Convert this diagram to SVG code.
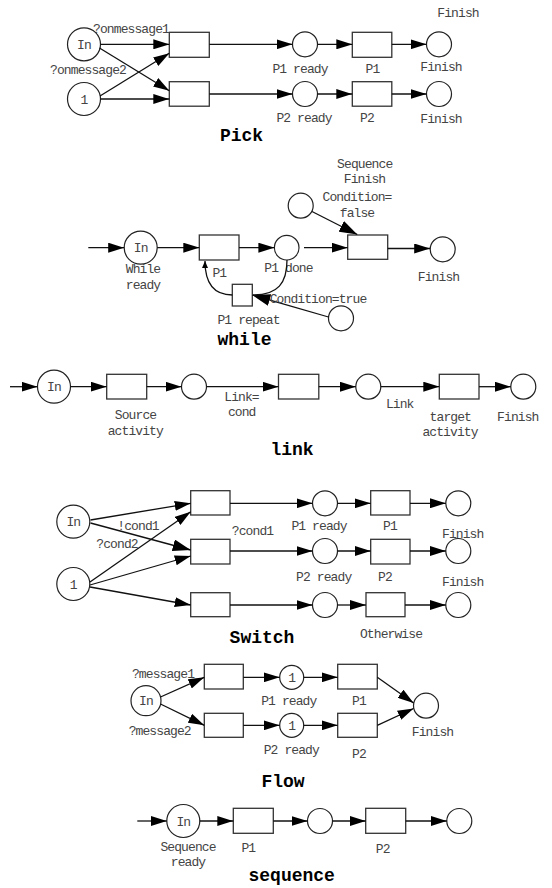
<svg xmlns="http://www.w3.org/2000/svg" width="552" height="888" viewBox="0 0 552 888">
  <style>
    .place { fill: #fff; stroke: #222; stroke-width: 1.2; }
    .trans { fill: #fff; stroke: #333; stroke-width: 1.3; }
    .arc { fill: none; stroke: #111; stroke-width: 1.3; marker-end: url(#head); }
    .arc.big { marker-end: url(#headBig); }
    .arc.small { marker-end: url(#headSmall); }
    .arc.plain { marker-end: none; }
    .lbl { font-family: "Liberation Mono", "DejaVu Sans Mono", monospace; font-size: 13px; letter-spacing: -0.9px; fill: #444; text-anchor: middle; }
    .ttl { font-family: "Liberation Mono", "DejaVu Sans Mono", monospace; font-size: 18px; font-weight: bold; fill: #000; text-anchor: middle; }
  </style>
  <defs>
    <marker id="head" markerUnits="userSpaceOnUse" markerWidth="16" markerHeight="10" refX="16" refY="5" orient="auto">
      <path d="M0,0 L16,5 L0,10 Z" fill="#000"/>
    </marker>
    <marker id="headBig" markerUnits="userSpaceOnUse" markerWidth="18" markerHeight="12" refX="18" refY="6" orient="auto">
      <path d="M0,0 L18,6 L0,12 Z" fill="#000"/>
    </marker>
    <marker id="headSmall" markerUnits="userSpaceOnUse" markerWidth="7" markerHeight="6" refX="7" refY="3" orient="auto">
      <path d="M0,0 L7,3 L0,6 Z" fill="#000"/>
    </marker>
  </defs>

  <rect width="552" height="888" fill="#fff"/>

  <!-- ===== Pick ===== -->
  <g id="pick-in"><circle class="place" cx="84" cy="44.3" r="16.5"/><text class="lbl" x="84" y="48.8">In</text></g>
  <g id="pick-one"><circle class="place" cx="84" cy="99" r="16.5"/><text class="lbl" x="84" y="103.5">1</text></g>
  <g id="pick-t1"><rect class="trans" x="169.3" y="32.3" width="40" height="25"/></g>
  <g id="pick-t2"><rect class="trans" x="169.3" y="81.7" width="40" height="24.5"/></g>
  <g id="pick-p1ready"><circle class="place" cx="305" cy="44.3" r="12.5"/><text class="lbl" x="300" y="73">P1 ready</text></g>
  <g id="pick-p1"><rect class="trans" x="352.3" y="32.3" width="39.5" height="25"/><text class="lbl" x="372.5" y="73">P1</text></g>
  <g id="pick-fin1"><circle class="place" cx="439" cy="44.3" r="12.5"/><text class="lbl" x="441" y="71">Finish</text></g>
  <g id="pick-finish-note"><text class="lbl" x="458" y="17">Finish</text></g>
  <g id="pick-p2ready"><circle class="place" cx="305" cy="94" r="12.5"/><text class="lbl" x="304" y="122">P2 ready</text></g>
  <g id="pick-p2"><rect class="trans" x="352.3" y="81.7" width="39.5" height="24.5"/><text class="lbl" x="367" y="122">P2</text></g>
  <g id="pick-fin2"><circle class="place" cx="439" cy="94" r="12.5"/><text class="lbl" x="441" y="122.5">Finish</text></g>
  <g id="pick-title"><text class="ttl" x="241.5" y="141">Pick</text></g>

  <!-- ===== while ===== -->
  <g id="while-in"><circle class="place" cx="140.7" cy="247.7" r="16.5"/><text class="lbl" x="140.7" y="252.2">In</text>
    <text class="lbl" x="143" y="272.5">While</text><text class="lbl" x="143" y="289">ready</text></g>
  <g id="while-p1"><rect class="trans" x="199.3" y="235" width="39.7" height="25"/><text class="lbl" x="219.3" y="277">P1</text></g>
  <g id="while-done"><circle class="place" cx="286.7" cy="247.7" r="12.3"/><text class="lbl" x="288.5" y="271.5">P1 done</text></g>
  <g id="while-repeat"><rect class="trans" x="232.3" y="284.3" width="20" height="21.7"/><text class="lbl" x="248.5" y="323.5">P1 repeat</text></g>
  <g id="while-cond-false"><circle class="place" cx="300.7" cy="205.7" r="12.5"/></g>
  <g id="while-exit"><rect class="trans" x="347.7" y="235" width="40" height="24.3"/>
    <text class="lbl" x="364.7" y="167.5">Sequence</text><text class="lbl" x="364.5" y="183">Finish</text>
    <text class="lbl" x="357" y="201">Condition=</text><text class="lbl" x="357" y="217">false</text></g>
  <g id="while-finish"><circle class="place" cx="442.7" cy="249.3" r="12.5"/><text class="lbl" x="438.5" y="280.5">Finish</text></g>
  <g id="while-cond-true"><circle class="place" cx="341" cy="318.3" r="12.5"/></g>
  <g id="while-title"><text class="ttl" x="244.5" y="345">while</text></g>

  <!-- ===== link ===== -->
  <g id="link-in"><circle class="place" cx="54" cy="386.7" r="16.5"/><text class="lbl" x="54" y="391.2">In</text></g>
  <g id="link-source"><rect class="trans" x="106.7" y="374.3" width="40" height="24.7"/>
    <text class="lbl" x="135.5" y="418.5">Source</text><text class="lbl" x="135.3" y="434.5">activity</text></g>
  <g id="link-p1"><circle class="place" cx="194" cy="386.7" r="12.5"/></g>
  <g id="link-t"><rect class="trans" x="278.5" y="374.3" width="40.3" height="24.7"/></g>
  <g id="link-p2"><circle class="place" cx="368.3" cy="386.7" r="12.5"/></g>
  <g id="link-target"><rect class="trans" x="439.3" y="374.3" width="39.7" height="24.7"/>
    <text class="lbl" x="450.3" y="420.5">target</text><text class="lbl" x="450" y="436">activity</text></g>
  <g id="link-finish"><circle class="place" cx="523.3" cy="386.7" r="12.5"/><text class="lbl" x="517.8" y="420.5">Finish</text></g>
  <g id="link-title"><text class="ttl" x="292" y="455">link</text></g>

  <!-- ===== Switch ===== -->
  <g id="sw-in"><circle class="place" cx="73.3" cy="521.7" r="16.5"/><text class="lbl" x="73.3" y="526.2">In</text></g>
  <g id="sw-one"><circle class="place" cx="73.3" cy="584" r="16.5"/><text class="lbl" x="73.3" y="588.5">1</text></g>
  <g id="sw-t1"><rect class="trans" x="190.7" y="490.7" width="39.3" height="24.3"/></g>
  <g id="sw-t2"><rect class="trans" x="190.7" y="539.3" width="39.3" height="24.7"/></g>
  <g id="sw-t3"><rect class="trans" x="190.7" y="592.7" width="39.3" height="24"/></g>
  <g id="sw-p1ready"><circle class="place" cx="325" cy="503.3" r="12.5"/><text class="lbl" x="319" y="530">P1 ready</text></g>
  <g id="sw-p1"><rect class="trans" x="370.7" y="490.7" width="39.3" height="24.3"/><text class="lbl" x="390" y="530">P1</text></g>
  <g id="sw-fin1"><circle class="place" cx="458.3" cy="503.3" r="12.5"/><text class="lbl" x="462.7" y="537.5">Finish</text></g>
  <g id="sw-p2ready"><circle class="place" cx="325" cy="551" r="12.5"/><text class="lbl" x="323.7" y="580.5">P2 ready</text></g>
  <g id="sw-p2"><rect class="trans" x="370.7" y="539.3" width="39.3" height="24.7"/><text class="lbl" x="385" y="580.5">P2</text></g>
  <g id="sw-fin2"><circle class="place" cx="458.3" cy="551" r="12.5"/><text class="lbl" x="462.7" y="586">Finish</text></g>
  <g id="sw-p3"><circle class="place" cx="325" cy="605" r="12.5"/></g>
  <g id="sw-otherwise"><rect class="trans" x="366" y="592.7" width="39" height="24"/><text class="lbl" x="391" y="638">Otherwise</text></g>
  <g id="sw-fin3"><circle class="place" cx="458.3" cy="605" r="12.5"/></g>
  <g id="sw-title"><text class="ttl" x="262" y="643">Switch</text></g>

  <!-- ===== Flow ===== -->
  <g id="fl-in"><circle class="place" cx="146" cy="700.7" r="15"/><text class="lbl" x="146" y="705.2">In</text></g>
  <g id="fl-t1"><rect class="trans" x="204.3" y="664.3" width="39" height="24.7"/></g>
  <g id="fl-t2"><rect class="trans" x="204.3" y="713.3" width="39" height="24"/></g>
  <g id="fl-p1ready"><circle class="place" cx="291.7" cy="677.3" r="12"/><text class="lbl" x="291.7" y="681.8">1</text><text class="lbl" x="288.8" y="704.5">P1 ready</text></g>
  <g id="fl-p2ready"><circle class="place" cx="291.7" cy="725.3" r="12"/><text class="lbl" x="291.7" y="729.8">1</text><text class="lbl" x="291.3" y="753.5">P2 ready</text></g>
  <g id="fl-p1"><rect class="trans" x="337.7" y="664.3" width="39.6" height="24.7"/><text class="lbl" x="359" y="704.5">P1</text></g>
  <g id="fl-p2"><rect class="trans" x="337.7" y="713.3" width="39.6" height="24"/><text class="lbl" x="359" y="758">P2</text></g>
  <g id="fl-finish"><circle class="place" cx="426" cy="705.7" r="12.5"/><text class="lbl" x="432.5" y="736">Finish</text></g>
  <g id="fl-title"><text class="ttl" x="283" y="787">Flow</text></g>

  <!-- ===== sequence ===== -->
  <g id="seq-in"><circle class="place" cx="183.3" cy="821" r="16.5"/><text class="lbl" x="183.3" y="825.5">In</text>
    <text class="lbl" x="188" y="851">Sequence</text><text class="lbl" x="188" y="866">ready</text></g>
  <g id="seq-p1"><rect class="trans" x="233.3" y="808.3" width="40" height="25"/><text class="lbl" x="248.3" y="852">P1</text></g>
  <g id="seq-mid"><circle class="place" cx="320" cy="821" r="12.5"/></g>
  <g id="seq-p2"><rect class="trans" x="365.7" y="808.3" width="40" height="25"/><text class="lbl" x="382.7" y="853">P2</text></g>
  <g id="seq-fin"><circle class="place" cx="459.3" cy="821" r="12.5"/></g>
  <g id="seq-title"><text class="ttl" x="291.7" y="881">sequence</text></g>

  <!-- ===== connectors ===== -->
  <g id="connectors">
    <!-- Pick -->
    <path class="arc" d="M100.5,44.3 H169.3"/>
    <path class="arc" d="M99.5,48 L169.3,90.7"/>
    <path class="arc" d="M100,96 L169.3,53.3"/>
    <path class="arc" d="M100.5,99 H169.3"/>
    <path class="arc" d="M209.3,44.3 H292.5"/>
    <path class="arc" d="M317.5,44.3 H352.3"/>
    <path class="arc" d="M391.8,44.3 H426.5"/>
    <path class="arc" d="M209.3,94 H292.5"/>
    <path class="arc" d="M317.5,94 H352.3"/>
    <path class="arc" d="M391.8,94 H426.5"/>
    <text class="lbl" x="131" y="33">?onmessage1</text>
    <text class="lbl" x="88" y="74">?onmessage2</text>

    <!-- while -->
    <path class="arc" d="M88.3,247.7 H124.2"/>
    <path class="arc" d="M157.2,247.7 H199.3"/>
    <path class="arc" d="M239,247.7 H274.4"/>
    <path class="arc" d="M304,247.7 H347.7"/>
    <path class="arc big" d="M312,211.5 L357.3,234.5"/>
    <path class="arc" d="M387.7,248.5 H430.2"/>
    <path class="arc big" d="M328.5,317 L252.3,295"/>
    <path class="arc plain" d="M287,260 C287,283 278,295 253,295"/>
    <path class="arc small" d="M232.3,295 C215,295 205,285 205,261"/>
    <text class="lbl" x="318" y="302.5">Condition=true</text>

    <!-- link -->
    <path class="arc" d="M10,386.7 H37.5"/>
    <path class="arc" d="M70.5,386.7 H106.7"/>
    <path class="arc" d="M146.7,386.7 H181.5"/>
    <path class="arc" d="M206.5,386.7 H278.5"/>
    <path class="arc" d="M318.8,386.7 H355.8"/>
    <path class="arc" d="M380.8,386.7 H439.3"/>
    <path class="arc" d="M479,386.7 H510.8"/>
    <text class="lbl" x="241.5" y="400.5">Link=</text>
    <text class="lbl" x="241.7" y="416">cond</text>
    <text class="lbl" x="399.7" y="407.5">Link</text>

    <!-- Switch -->
    <path class="arc" d="M90.5,520 L190.7,503.3"/>
    <path class="arc big" d="M90.5,523 L190.7,550"/>
    <path class="arc" d="M90,582 L190.7,511.7"/>
    <path class="arc" d="M90,585 L190.7,556"/>
    <path class="arc" d="M90,587 L190.7,605"/>
    <path class="arc" d="M230,503.3 H312.5"/>
    <path class="arc" d="M337.5,503.3 H370.7"/>
    <path class="arc" d="M410,503.3 H445.8"/>
    <path class="arc" d="M230,551 H312.5"/>
    <path class="arc" d="M337.5,551 H370.7"/>
    <path class="arc" d="M410,551 H445.8"/>
    <path class="arc" d="M230,605 H312.5"/>
    <path class="arc" d="M337.5,605 H366"/>
    <path class="arc" d="M405,605 H445.8"/>
    <text class="lbl" x="138" y="529.5">!cond1</text>
    <text class="lbl" x="117" y="548">?cond2</text>
    <text class="lbl" x="252.5" y="534.5">?cond1</text>

    <!-- Flow -->
    <path class="arc" d="M160.5,697 L204.3,677.3"/>
    <path class="arc" d="M160.5,704 L204.3,725.3"/>
    <path class="arc" d="M243.3,677.3 H279.7"/>
    <path class="arc" d="M303.7,677.3 H337.7"/>
    <path class="arc" d="M243.3,725.3 H279.7"/>
    <path class="arc" d="M303.7,725.3 H337.7"/>
    <path class="arc" d="M377.3,677.3 L413.6,703"/>
    <path class="arc" d="M377.3,725.3 L413.6,708.5"/>
    <text class="lbl" x="163" y="678">?message1</text>
    <text class="lbl" x="159.7" y="734.5">?message2</text>

    <!-- sequence -->
    <path class="arc" d="M137.3,821 H166.8"/>
    <path class="arc" d="M199.8,821 H233.3"/>
    <path class="arc" d="M273.3,821 H307.5"/>
    <path class="arc" d="M332.5,821 H365.7"/>
    <path class="arc" d="M405.7,821 H446.8"/>
  </g>
</svg>
